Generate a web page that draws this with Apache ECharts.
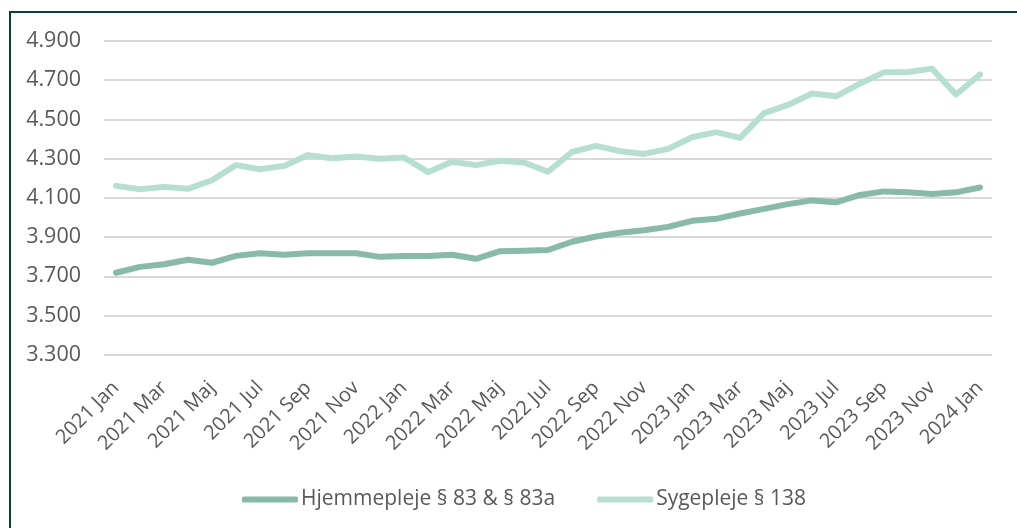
<!DOCTYPE html>
<html>
<head>
<meta charset="utf-8">
<script src="https://cdn.jsdelivr.net/npm/echarts@6/dist/echarts.min.js"></script>
<style>html,body{margin:0;padding:0;background:#fff;}#c{width:1017px;height:528px;}</style>
</head>
<body>
<div id="c"></div>
<script>
const categories = [
  "2021 Jan","2021 Feb","2021 Mar","2021 Apr","2021 Maj","2021 Jun","2021 Jul","2021 Aug","2021 Sep","2021 Okt","2021 Nov","2021 Dec",
  "2022 Jan","2022 Feb","2022 Mar","2022 Apr","2022 Maj","2022 Jun","2022 Jul","2022 Aug","2022 Sep","2022 Okt","2022 Nov","2022 Dec",
  "2023 Jan","2023 Feb","2023 Mar","2023 Apr","2023 Maj","2023 Jun","2023 Jul","2023 Aug","2023 Sep","2023 Okt","2023 Nov","2023 Dec",
  "2024 Jan"
];
const hjemmepleje = [
  3718,3748,3761,3784,3769,3804,3817,3810,3817,3817,3817,3799,
  3803,3803,3810,3789,3828,3830,3834,3876,3903,3922,3935,3952,
  3983,3993,4020,4044,4068,4087,4077,4115,4133,4128,4120,4128,
  4153
];
const sygepleje = [
  4161,4144,4156,4146,4190,4267,4246,4263,4318,4302,4311,4300,
  4306,4231,4284,4267,4289,4280,4233,4334,4365,4338,4324,4350,
  4409,4435,4406,4532,4574,4632,4618,4683,4740,4742,4759,4627,
  4729
];
const seriesNames = ["Hjemmepleje § 83 & § 83a", "Sygepleje § 138"];

const FONT = "'Open Sans', 'Noto Sans', sans-serif";
const chart = echarts.init(document.getElementById('c'), null, {renderer: 'canvas'});
chart.setOption({
  animation: false,
  backgroundColor: '#ffffff',
  graphic: [{
    type: 'rect',
    shape: {x: 10, y: 12, width: 1100, height: 600},
    style: {fill: 'none', stroke: '#0e3f3f', lineWidth: 2},
    z: 100
  }],
  grid: {left: 104, right: 25, top: 41, bottom: 173.3, containLabel: false},
  legend: {
    left: 237, top: 484,
    itemWidth: 56, itemHeight: 6, itemGap: 42,
    icon: 'roundRect',
    textStyle: {fontFamily: FONT, fontSize: 21, color: '#595959', padding: [0,0,0,-2]},
    data: seriesNames
  },
  xAxis: {
    type: 'category',
    data: categories,
    boundaryGap: true,
    axisLine: {show: false},
    axisTick: {show: false},
    axisLabel: {
      interval: 1, rotate: 45, margin: 30,
      fontFamily: FONT, fontSize: 20, color: '#595959'
    }
  },
  yAxis: {
    type: 'value',
    min: 3300, max: 4900, interval: 200,
    axisLine: {show: false},
    axisTick: {show: false},
    splitLine: {lineStyle: {color: '#d9d9d9', width: 2}},
    axisLabel: {
      margin: 23,
      fontFamily: FONT, fontSize: 21.5, color: '#595959',
      formatter: v => String(v).replace(/\B(?=(\d{3})+(?!\d))/g, '.')
    }
  },
  series: [
    {
      name: seriesNames[0], type: 'line', data: hjemmepleje,
      symbol: 'none', smooth: false,
      lineStyle: {color: '#88b9a9', width: 6, cap: 'round', join: 'round'},
      itemStyle: {color: '#88b9a9'}
    },
    {
      name: seriesNames[1], type: 'line', data: sygepleje,
      symbol: 'none', smooth: false,
      lineStyle: {color: '#b6dfd1', width: 6, cap: 'round', join: 'round'},
      itemStyle: {color: '#b6dfd1'}
    }
  ]
});
</script>
</body>
</html>
